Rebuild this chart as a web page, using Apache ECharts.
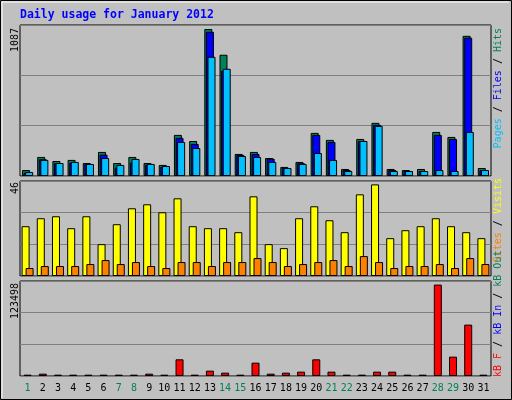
<!DOCTYPE html>
<html><head><meta charset="utf-8">
<script src="https://cdn.jsdelivr.net/npm/echarts@6/dist/echarts.min.js"></script>
<style>html,body{margin:0;padding:0;background:#c0c0c0}#c{width:512px;height:400px}</style>
</head><body><div id="c"></div><script>
const days = ['1','2','3','4','5','6','7','8','9','10','11','12','13','14','15','16','17','18','19','20','21','22','23','24','25','26','27','28','29','30','31'];
const weekendDays = ['1','7','8','14','15','21','22','28','29'];
const hits  = [44,141,111,119,96,178,96,141,96,82,304,259,1087,897,163,178,133,67,104,319,267,52,274,393,52,44,52,326,289,1037,59];
const files = [25,124,94,99,89,158,62,99,84,69,282,237,1067,778,156,163,128,59,94,304,252,44,259,378,44,37,37,304,274,1023,44];
const pages = [30,119,96,104,89,133,82,126,89,74,252,207,882,793,148,141,104,59,89,170,119,37,259,371,37,37,37,44,37,326,44];
const visits = [25,29,30,24,30,16,26,34,36,32,39,25,24,24,22,40,16,14,29,35,28,22,41,46,19,23,25,29,25,22,19];
const sites  = [4,5,5,5,6,8,6,7,5,4,7,7,5,7,7,9,7,5,6,7,8,5,10,7,4,5,5,6,4,9,6];
const kbytes = [1800,3155,1800,1800,1800,1800,1800,1800,3155,1800,22535,1800,7211,4507,1800,18028,3155,4507,5859,22535,5859,1800,1800,5859,5859,1800,1800,123498,26140,69408,1800];
const maxLabels = ['1087','46','123498'];

const ch = echarts.init(document.getElementById('c'));
const mono = 'DejaVu Sans Mono';
const grids = [
  {left:20, top:25, width:471, height:151},
  {left:20, top:181, width:471, height:95},
  {left:20, top:281, width:471, height:95}
].map(g=>Object.assign(g,{show:true, backgroundColor:'#c0c0c0', borderColor:'#000', borderWidth:1}));
const ymax = [1117, 47.7, 128360];
function xa(i){return {type:'category', gridIndex:i, data:days, axisLine:{show:false}, axisTick:{show:false},
  axisLabel:{show:i===2, interval:0, margin:7, fontFamily:mono, fontSize:10,
    color:(v)=>weekendDays.includes(v)?'#00805c':'#000'}};}
function ya(i){return {type:'value', gridIndex:i, min:0, max:ymax[i], interval:ymax[i]/3, axisLabel:{show:false},
  axisLine:{show:false}, axisTick:{show:false}, splitLine:{lineStyle:{color:'#808080', width:1}}};}
const bs = {borderColor:'#000', borderWidth:1};
function bar(name, data, i, color, gap){return {name, type:'bar', data, xAxisIndex:i, yAxisIndex:i, barWidth:8, barGap:gap,
  itemStyle:Object.assign({color}, bs), animation:false, silent:true};}
const F = '10px '+mono;
function vtext(x, y, text, rich){return {type:'text', x, y, rotation:Math.PI/2,
  style:{text, align:'right', verticalAlign:'middle', font:F, fill:'#000', rich}};}
const r = c=>({fill:c, font:F});
ch.setOption({
  animation:false,
  grid:grids, xAxis:[xa(0),xa(1),xa(2)], yAxis:[ya(0),ya(1),ya(2)],
  series:[
    bar('Hits',hits,0,'#00805c','-80%'), bar('Files',files,0,'#0000ff','-80%'), bar('Pages',pages,0,'#00c0ff','-80%'),
    bar('Visits',visits,1,'#ffff00','-50%'), bar('Sites',sites,1,'#ff8000','-50%'),
    bar('kB F',kbytes,2,'#ff0000','-50%')
  ],
  graphic:[
    {type:'rect', shape:{x:0.5,y:0.5,width:511,height:399}, style:{fill:null, stroke:'#000', lineWidth:1}, silent:true},
    {type:'polyline', shape:{points:[[2,398],[2,2],[509,2]]}, style:{stroke:'#fff', lineWidth:1, fill:null}},
    {type:'text', x:20, y:15, style:{text:'Daily usage for January 2012', font:'bold 11.5px '+mono, fill:'#0000ff', verticalAlign:'middle'}},
    vtext(15, 28, maxLabels[0]), vtext(15, 182, maxLabels[1]), vtext(15, 283, maxLabels[2]),
    vtext(498, 28, '{p|Pages} / {f|Files} / {h|Hits}', {p:r('#00c0ff'), f:r('#0000ff'), h:r('#00805c')}),
    vtext(498, 178, '{s|Sites} / {v|Visits}', {s:r('#ff8000'), v:r('#ffff00')}),
    {type:'text', x:498, y:377, rotation:Math.PI/2,
      style:{text:'{a|kB F} / {b|kB In} / {c|kB Out}', align:'left', verticalAlign:'middle', font:F, fill:'#000',
      rich:{a:r('#ff0000'), b:r('#0000ff'), c:r('#00805c')}}}
  ]
});
</script></body></html>
